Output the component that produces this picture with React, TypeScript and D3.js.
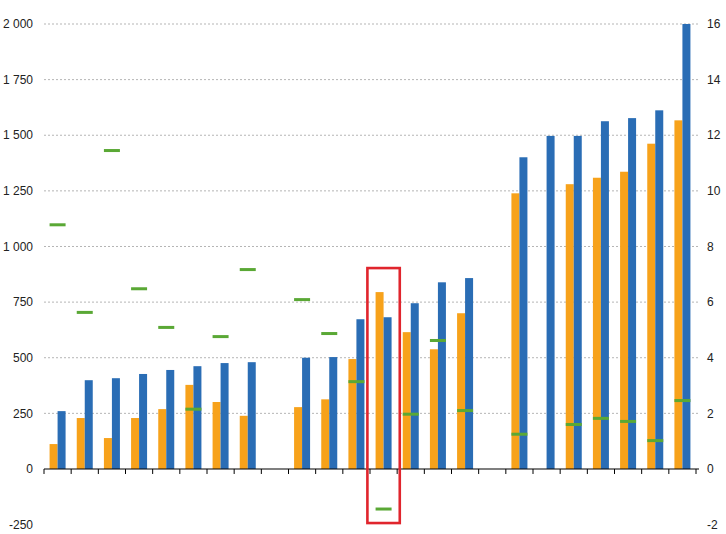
import React from "react";
import * as d3 from "d3";

const categories = [
  "C01","C02","C03","C04","C05","C06","C07","C08","C09","C10","C11","C12",
  "C13","C14","C15","C16","C17","C18","C19","C20","C21","C22","C23","C24",
];
const orangeValues: (number | null)[] = [
  112, 229, 139, 229, 269, 378, 301, 239, null, 278, 313, 494,
  795, 615, 538, 700, null, 1239, null, 1280, 1309, 1336, 1462, 1567,
];
const blueValues: (number | null)[] = [
  260, 399, 408, 427, 445, 462, 476, 480, null, 500, 503, 673,
  682, 745, 839, 858, null, 1401, 1497, 1497, 1563, 1577, 1612, 2000,
];
const greenValues: (number | null)[] = [
  8.78, 5.63, 11.45, 6.48, 5.09, 2.15, 4.76, 7.17, null, 6.09, 4.87, 3.14,
  -1.44, 1.97, 4.62, 2.1, null, 1.25, null, 1.6, 1.82, 1.71, 1.02, 2.46,
];
const leftTicks = [-250, 0, 250, 500, 750, 1000, 1250, 1500, 1750, 2000];
const rightTicks = [-2, 0, 2, 4, 6, 8, 10, 12, 14, 16];
const highlightCategory = "C13";
const highlightRange = [903, -243];

const W = 726;
const H = 534;
const COLORS = { orange: "#F7A21B", blue: "#2A6DB5", green: "#5AA835", red: "#E0252D" };

const fmt = (v: number) => {
  const s = Math.abs(v).toString().replace(/\B(?=(\d{3})+(?!\d))/g, " ");
  return (v < 0 ? "-" : "") + s;
};

export default function App() {
  const x = d3.scaleBand<string>().domain(categories).range([44, 696]).padding(0);
  const bw = x.bandwidth();
  const sub = d3
    .scaleBand<string>()
    .domain(["orange", "blue"])
    .range([0, bw])
    .paddingInner(0)
    .paddingOuter((bw / 8 - 2) / 2);
  const yL = d3.scaleLinear().domain([-250, 2000]).range([524.6, 24]);
  const yR = d3.scaleLinear().domain([-2, 16]).range([524.6, 24]);
  const y0 = yL(0);
  const font = "'Liberation Sans', Arial, sans-serif";

  const groupX0 = (c: string) => (x(c) as number) + (sub("orange") as number);
  const groupW = sub.bandwidth() * 2;

  const hx = x(highlightCategory) as number;

  return (
    <svg
      width={W}
      height={H}
      style={{ position: "absolute", left: 0, top: 0, background: "#fff" }}
      fontFamily={font}
    >
      <rect width={W} height={H} fill="#fff" />
      {leftTicks
        .filter((t) => t > 0)
        .map((t) => (
          <line
            key={"g" + t}
            x1={44}
            x2={700}
            y1={yL(t)}
            y2={yL(t)}
            stroke="#b5b5b5"
            strokeWidth={1}
            strokeDasharray="2,2"
          />
        ))}
      {categories.map((c, i) => (
        <g key={c}>
          {orangeValues[i] != null && (
            <rect
              x={(x(c) as number) + (sub("orange") as number)}
              y={yL(orangeValues[i] as number)}
              width={sub.bandwidth()}
              height={y0 - yL(orangeValues[i] as number)}
              fill={COLORS.orange}
            />
          )}
          {blueValues[i] != null && (
            <rect
              x={(x(c) as number) + (sub("blue") as number)}
              y={yL(blueValues[i] as number)}
              width={sub.bandwidth()}
              height={y0 - yL(blueValues[i] as number)}
              fill={COLORS.blue}
            />
          )}
        </g>
      ))}
      {categories.map((c, i) =>
        greenValues[i] != null ? (
          <rect
            key={"m" + c}
            x={groupX0(c)}
            y={yR(greenValues[i] as number) - 1.5}
            width={groupW}
            height={3}
            fill={COLORS.green}
          />
        ) : null
      )}
      <line x1={44} x2={699} y1={y0} y2={y0} stroke="#000" strokeWidth={1.2} />
      {[...categories.map((c) => x(c) as number), 696].map((t, i) => (
        <line key={"t" + i} x1={t} x2={t} y1={y0} y2={y0 + 5} stroke="#000" strokeWidth={1} />
      ))}
      {leftTicks.map((t) => (
        <text key={"l" + t} x={33} y={yL(t)} dy="0.35em" textAnchor="end" fontSize={12} fill="#222">
          {fmt(t)}
        </text>
      ))}
      {rightTicks.map((t) => (
        <text key={"r" + t} x={707} y={yR(t)} dy="0.35em" textAnchor="start" fontSize={12} fill="#222">
          {fmt(t)}
        </text>
      ))}
      <rect
        x={hx - 2.6}
        y={yL(highlightRange[0])}
        width={bw + 5.2}
        height={yL(highlightRange[1]) - yL(highlightRange[0])}
        fill="none"
        stroke={COLORS.red}
        strokeWidth={2.6}
      />
    </svg>
  );
}
